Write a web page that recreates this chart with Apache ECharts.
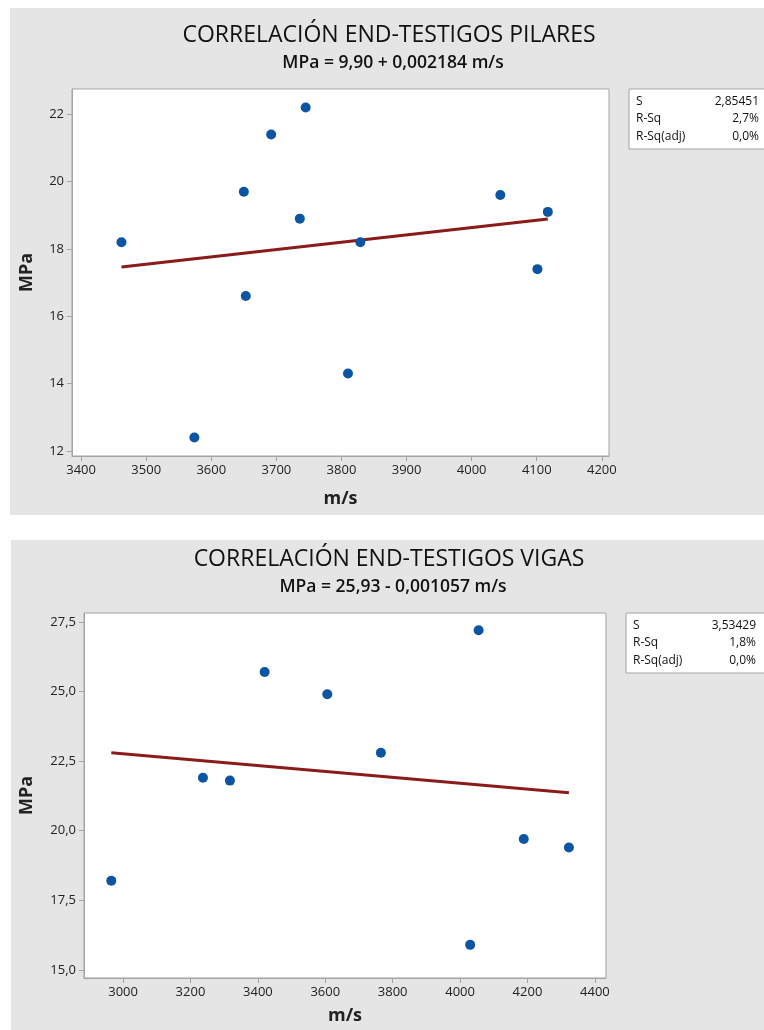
<!DOCTYPE html>
<html>
<head>
<meta charset="utf-8">
<script src="https://cdn.jsdelivr.net/npm/echarts@6/dist/echarts.min.js"></script>
<style>
html,body{margin:0;padding:0;background:#fff;}
#c{width:764px;height:1030px;}
</style>
</head>
<body>
<div id="c"></div>
<script>
// ---- Data: top chart (PILARES) ----
const topTitle = 'CORRELACIÓN END-TESTIGOS PILARES';
const topSubtitle = 'MPa = 9,90 + 0,002184 m/s';
const topX = [3462, 3574, 3650, 3653, 3692, 3745, 3736, 3810, 3829, 4044, 4101, 4117];
const topY = [18.2, 12.4, 19.7, 16.6, 21.4, 22.2, 18.9, 14.3, 18.2, 19.6, 17.4, 19.1];
const topFitX = [3462, 4117];
const topFitY = [17.46, 18.89];
const topXTicks = [3400, 3500, 3600, 3700, 3800, 3900, 4000, 4100, 4200];
const topYTicks = [12, 14, 16, 18, 20, 22];
const topStatsLabels = ['S', 'R-Sq', 'R-Sq(adj)'];
const topStatsValues = ['2,85451', '2,7%', '0,0%'];

// ---- Data: bottom chart (VIGAS) ----
const botTitle = 'CORRELACIÓN END-TESTIGOS VIGAS';
const botSubtitle = 'MPa = 25,93 - 0,001057 m/s';
const botX = [2965, 3237, 3317, 3420, 3606, 3765, 4030, 4055, 4189, 4323];
const botY = [18.2, 21.9, 21.8, 25.7, 24.9, 22.8, 15.9, 27.2, 19.7, 19.4];
const botFitX = [2965, 4323];
const botFitY = [22.80, 21.36];
const botXTicks = [3000, 3200, 3400, 3600, 3800, 4000, 4200, 4400];
const botYTicks = [15, 17.5, 20, 22.5, 25, 27.5];
const botStatsLabels = ['S', 'R-Sq', 'R-Sq(adj)'];
const botStatsValues = ['3,53429', '1,8%', '0,0%'];

const axisName = {x: 'm/s', y: 'MPa'};

// ---- Styling ----
const FONT = '"Open Sans", "Noto Sans", sans-serif';
const BG = '#E5E5E5';
const BORDER = '#A3A3A3';
const DOT = '#0B55A2';
const FIT = '#8B1A1A';

function zip(a, b){ return a.map((v,i)=>[v, b[i]]); }

function makeX(idx, ticks, min, max, gap, fmt){
  return {
    type:'value', gridIndex:idx, min:min, max:max,
    name: axisName.x, nameLocation:'middle', nameGap:gap,
    nameTextStyle:{fontFamily:FONT, fontSize:18, fontWeight:'bold', color:'#222'},
    axisLine:{show:true, onZero:false, lineStyle:{color:BORDER, width:1}},
    axisTick:{show:true, length:5, inside:false, customValues:ticks, lineStyle:{color:BORDER}},
    axisLabel:{show:true, customValues:ticks, margin:8, fontFamily:FONT, fontSize:13, color:'#222', formatter:fmt},
    splitLine:{show:false}
  };
}
function makeY(idx, ticks, min, max, gap, fmt){
  return {
    type:'value', gridIndex:idx, min:min, max:max,
    name: axisName.y, nameLocation:'middle', nameGap:gap, nameRotate:90,
    nameTextStyle:{fontFamily:FONT, fontSize:18, fontWeight:'bold', color:'#222'},
    axisLine:{show:true, onZero:false, lineStyle:{color:BORDER, width:1}},
    axisTick:{show:true, length:5, inside:false, customValues:ticks, lineStyle:{color:BORDER}},
    axisLabel:{show:true, customValues:ticks, margin:8, fontFamily:FONT, fontSize:13, color:'#222', formatter:fmt},
    splitLine:{show:false}
  };
}

function statsBox(x, y, labels, values){
  const children = [{
    type:'rect', shape:{x:0, y:0, width:150, height:60},
    style:{fill:'#fff', stroke:BORDER, lineWidth:1}
  }];
  labels.forEach((l,i)=>{
    children.push({type:'text', x:7, y:12.5 + i*17.5,
      style:{text:l, fill:'#111', font:'500 12px ' + FONT, textVerticalAlign:'middle', textAlign:'left'}});
    children.push({type:'text', x:130, y:12.5 + i*17.5,
      style:{text:values[i], fill:'#111', font:'500 12px ' + FONT, textVerticalAlign:'middle', textAlign:'right'}});
  });
  return {type:'group', x:x, y:y, children:children, z:5};
}

function titleText(x, y, text, size, weight){
  return {type:'text', x:x, y:y, z:5,
    style:{text:text, fill:'#111', font: weight + ' ' + size + 'px ' + FONT, textAlign:'center', textVerticalAlign:'middle'}};
}

const yfmt1 = v => String(v);
const yfmt2 = v => v.toFixed(1).replace('.', ',');
const xfmt = v => String(v);

const chart = echarts.init(document.getElementById('c'), null, {renderer:'canvas'});
chart.setOption({
  animation:false,
  backgroundColor:'#fff',
  graphic:[
    {type:'rect', shape:{x:10, y:8, width:754, height:507}, style:{fill:BG}, z:-10, silent:true},
    {type:'rect', shape:{x:11, y:540, width:753, height:490}, style:{fill:BG}, z:-10, silent:true},
    titleText(389, 35, topTitle, 23, '500'),
    titleText(393, 63, topSubtitle, 17.5, '600'),
    titleText(389, 559, botTitle, 23, '500'),
    titleText(393, 587, botSubtitle, 17.5, '600'),
    statsBox(629, 89, topStatsLabels, topStatsValues),
    statsBox(626, 613, botStatsLabels, botStatsValues)
  ],
  grid:[
    {left:72, top:89, width:537, height:367, show:true, backgroundColor:'#fff', borderColor:BORDER, borderWidth:1},
    {left:84, top:613, width:522, height:365, show:true, backgroundColor:'#fff', borderColor:BORDER, borderWidth:1}
  ],
  xAxis:[
    makeX(0, topXTicks, 3386, 4211, 34, xfmt),
    makeX(1, botXTicks, 2884, 4433, 29, xfmt)
  ],
  yAxis:[
    makeY(0, topYTicks, 11.85, 22.75, 36, yfmt1),
    makeY(1, botYTicks, 14.71, 27.82, 48, yfmt2)
  ],
  series:[
    {type:'line', xAxisIndex:0, yAxisIndex:0, data:zip(topFitX, topFitY), showSymbol:false,
      lineStyle:{color:FIT, width:3}, z:2},
    {type:'scatter', xAxisIndex:0, yAxisIndex:0, data:zip(topX, topY), symbol:'circle', symbolSize:10,
      itemStyle:{color:DOT, opacity:1}, z:3},
    {type:'line', xAxisIndex:1, yAxisIndex:1, data:zip(botFitX, botFitY), showSymbol:false,
      lineStyle:{color:FIT, width:3}, z:2},
    {type:'scatter', xAxisIndex:1, yAxisIndex:1, data:zip(botX, botY), symbol:'circle', symbolSize:10,
      itemStyle:{color:DOT, opacity:1}, z:3}
  ]
});
</script>
</body>
</html>
